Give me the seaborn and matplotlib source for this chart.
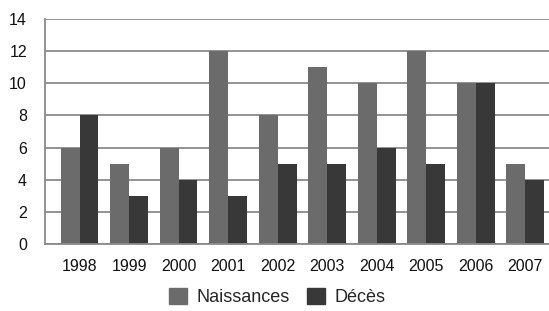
import pandas as pd
import seaborn as sns
import matplotlib.pyplot as plt
from matplotlib.patches import Patch

years = ['1998', '1999', '2000', '2001', '2002', '2003', '2004', '2005', '2006', '2007']
naissances = [6, 5, 6, 12, 8, 11, 10, 12, 10, 5]
deces = [8, 3, 4, 3, 5, 5, 6, 5, 10, 4]
series = ['Naissances', 'Décès']
colors = ['#6b6b6b', '#383838']

df = pd.DataFrame({
    'annee': years * 2,
    'valeur': naissances + deces,
    'serie': [series[0]] * len(years) + [series[1]] * len(years),
})

sns.set_style('white')
plt.rcParams['font.family'] = ['Liberation Sans', 'DejaVu Sans']

fig = plt.figure(figsize=(5.49, 3.11), dpi=100)
ax = fig.add_axes([0.082, 0.215, 0.918, 0.724])

sns.barplot(data=df, x='annee', y='valeur', hue='serie', palette=colors,
            width=0.76, gap=0, saturation=1, linewidth=0, ax=ax, legend=False)

ax.set_ylim(0, 14)
ax.set_xlim(-0.7, 9.48)
ax.set_yticks(range(0, 15, 2))
ax.yaxis.grid(True, color='#8a8a8a', linewidth=1.3)
ax.set_axisbelow(True)
ax.set_xlabel('')
ax.set_ylabel('')
ax.tick_params(axis='both', length=0, labelsize=11.5, labelcolor='#111111')
ax.tick_params(axis='y', pad=13)
ax.tick_params(axis='x', pad=11)
for s in ['top', 'right']:
    ax.spines[s].set_visible(False)
for s in ['left', 'bottom']:
    ax.spines[s].set_color('#8a8a8a')
    ax.spines[s].set_linewidth(1.3)

handles = [Patch(color=c, label=l) for c, l in zip(colors, series)]
fig.legend(handles=handles, loc='center', bbox_to_anchor=(0.505, 0.045), ncol=2,
           frameon=False, fontsize=13, handlelength=1.0, handleheight=1.0,
           handletextpad=0.5, columnspacing=1.0)

fig.savefig('out.png', dpi=100)
